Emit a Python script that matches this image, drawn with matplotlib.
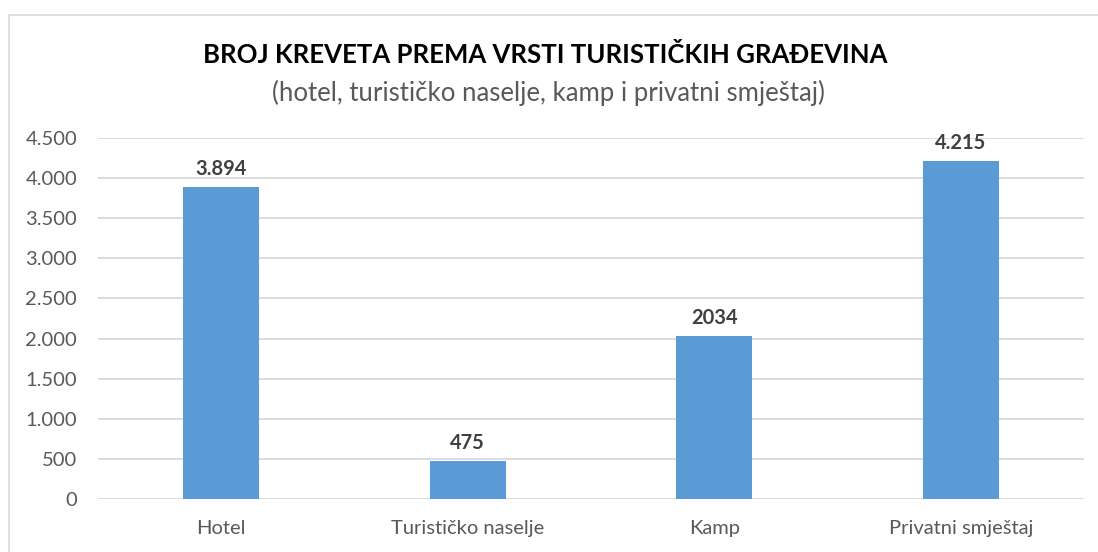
import matplotlib
matplotlib.use("Agg")
from matplotlib import pyplot as plt, patches
from matplotlib.ticker import FuncFormatter

categories = ["Hotel", "Turističko naselje", "Kamp", "Privatni smještaj"]
beds = [3894, 475, 2034, 4215]
bar_labels = ["3.894", "475", "2034", "4.215"]
y_ticks = [0, 500, 1000, 1500, 2000, 2500, 3000, 3500, 4000, 4500]

plt.rcParams["font.family"] = ["Lato", "DejaVu Sans"]

W, H = 1098, 552
fig = plt.figure(figsize=(W / 100, H / 100), dpi=100)
fig.patch.set_facecolor("white")

# light frame around the chart area (cut off at right/bottom)
frame = patches.Rectangle((8.5 / W, -0.05), 1.2, 1 - 14.5 / H + 0.05,
                          transform=fig.transFigure, fill=False,
                          edgecolor="#D9D9D9", linewidth=1.2)
fig.add_artist(frame)

ax = fig.add_axes([98 / W, 1 - 499 / H, (1084 - 98) / W, (499 - 138) / H])

x = range(len(categories))
bars = ax.bar(x, beds, width=0.31, color="#5B9BD5", zorder=3)

for b, lab in zip(bars, bar_labels):
    ax.text(b.get_x() + b.get_width() / 2, b.get_height() + 100, lab,
            ha="center", va="bottom", fontsize=14.5, fontweight="bold",
            color="#404040")

ax.set_xlim(-0.5, len(categories) - 0.5)
ax.set_ylim(0, 4500)
ax.set_yticks(y_ticks)
ax.yaxis.set_major_formatter(FuncFormatter(lambda v, p: f"{int(v):,}".replace(",", ".")))
ax.set_xticks(list(x))
ax.set_xticklabels(categories)
ax.tick_params(axis="both", length=0, labelsize=14.5, colors="#595959")
ax.tick_params(axis="x", pad=15)
ax.tick_params(axis="y", pad=15)
ax.grid(axis="y", color="#D9D9D9", linewidth=1.3, zorder=0)
for s in ax.spines.values():
    s.set_visible(False)

fig.text(545 / W, 1 - 55 / H, "BROJ KREVETA PREMA VRSTI TURISTIČKIH GRAĐEVINA",
         ha="center", va="center", fontsize=18.5, fontweight="bold", color="black")
fig.text(548 / W, 1 - 93 / H, "(hotel, turističko naselje, kamp i privatni smještaj)",
         ha="center", va="center", fontsize=18.5, color="#595959")

fig.savefig("out.png", dpi=100, facecolor="white")
